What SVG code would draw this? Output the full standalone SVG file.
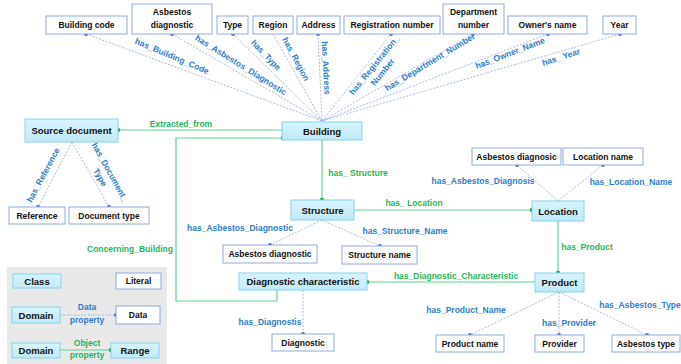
<svg xmlns="http://www.w3.org/2000/svg" width="681" height="364" viewBox="0 0 681 364">
<defs>
<linearGradient id="cg" x1="0" y1="0" x2="0" y2="1">
<stop offset="0" stop-color="#d9f5fd"/>
<stop offset="1" stop-color="#bfeaf8"/>
</linearGradient>
<style>
.cls{fill:url(#cg);stroke:#86d3ee;stroke-width:1}
.lit{fill:#ffffff;stroke:#8eaadb;stroke-width:1}
.ct{font-family:"Liberation Sans",Arial,sans-serif;font-size:9.5px;font-weight:bold;fill:#111;text-anchor:middle}
.lt{font-family:"Liberation Sans",Arial,sans-serif;font-size:8.5px;font-weight:bold;fill:#111;text-anchor:middle}
.bl{font-family:"Liberation Sans",Arial,sans-serif;font-size:8.5px;font-weight:bold;fill:#2e7dc9;text-anchor:middle}
.gl{font-family:"Liberation Sans",Arial,sans-serif;font-size:8.5px;font-weight:bold;fill:#1fb55a;text-anchor:middle}
.dp{fill:none;stroke:#8faadc;stroke-width:0.8;stroke-dasharray:2 1.5}
.op{fill:none;stroke:#62d394;stroke-width:1.2}
.bd{fill:#4472c4}
.gd{fill:#14a84e}
</style>
</defs>
<rect x="0" y="0" width="681" height="364" fill="#ffffff"/>

<g id="connectors">
<!-- data property lines top -->
<path class="dp" d="M86,34 L322,121"/>
<path class="dp" d="M172,34 L322,121"/>
<path class="dp" d="M233,34 L322,121"/>
<path class="dp" d="M273,34 L322,121"/>
<path class="dp" d="M318,34 L322,121"/>
<path class="dp" d="M391,34 L322,121"/>
<path class="dp" d="M473,34 L322,121"/>
<path class="dp" d="M548,34 L322,121"/>
<path class="dp" d="M620,34 L322,121"/>
<circle class="bd" cx="86" cy="34" r="2"/>
<circle class="bd" cx="172" cy="34" r="2"/>
<circle class="bd" cx="233" cy="34" r="2"/>
<circle class="bd" cx="318" cy="34" r="2"/>
<circle class="bd" cx="391" cy="34" r="2"/>
<circle class="bd" cx="473" cy="34" r="2"/>
<circle class="bd" cx="548" cy="34" r="2"/>
<circle class="bd" cx="620" cy="34" r="2"/>
<g transform="translate(172,56) rotate(23)"><text class="bl" x="0" y="3">has_Building_Code</text></g>
<g transform="translate(241,65) rotate(32)"><text class="bl" x="0" y="3">has_Asbestos_Diagnostic</text></g>
<g transform="translate(266,55) rotate(46)"><text class="bl" x="0" y="3">has_Type</text></g>
<g transform="translate(296,59) rotate(62)"><text class="bl" x="0" y="3">has_Region</text></g>
<g transform="translate(326,68) rotate(87)"><text class="bl" x="0" y="3">has_Address</text></g>
<g transform="translate(374,65) rotate(-51)"><text class="bl" x="0" y="3">has_Registration_</text><text class="bl" x="0" y="14">Number</text></g>
<g transform="translate(430,62) rotate(-31)"><text class="bl" x="0" y="3">has_Department_Number</text></g>
<g transform="translate(510,53) rotate(-21)"><text class="bl" x="0" y="3">has_Owner_Name</text></g>
<g transform="translate(561,57) rotate(-18)"><text class="bl" x="0" y="3">has_ Year</text></g>

<!-- source document -->
<path class="dp" d="M72,142 L38,207"/>
<path class="dp" d="M72,142 L109,207"/>
<circle class="bd" cx="38" cy="207" r="2"/>
<circle class="bd" cx="109" cy="207" r="2"/>
<g transform="translate(43,175) rotate(-62)"><text class="bl" x="0" y="3">has_Reference</text></g>
<g transform="translate(110,172) rotate(61)"><text class="bl" x="0" y="3">has_Document_</text><text class="bl" x="0" y="14">Type</text></g>

<!-- object properties -->
<path class="op" d="M118,130 L282,130"/>
<circle class="gd" cx="118" cy="130" r="2.2"/>
<text class="gl" x="181" y="127">Extracted_from</text>

<path class="op" d="M277,290 L277,301 L176,301 L176,138 L282,138"/>
<circle class="gd" cx="283" cy="138" r="2.2"/>
<text class="gl" x="130" y="252">Concerning_Building</text>

<path class="op" d="M322,140 L322,200"/>
<circle class="gd" cx="322" cy="200" r="2.2"/>
<text class="gl" x="358" y="176">has_ Structure</text>

<path class="op" d="M354,210 L532,210"/>
<circle class="gd" cx="532" cy="210" r="2.2"/>
<text class="gl" x="414" y="206">has_ Location</text>

<path class="op" d="M558,221 L558,273"/>
<circle class="gd" cx="558" cy="273" r="2.2"/>
<text class="gl" x="587" y="250">has_Product</text>

<path class="op" d="M367,282 L535,282"/>
<circle class="gd" cx="367" cy="282" r="2.2"/>
<text class="gl" x="456" y="279">has_Diagnostic_Characteristic</text>

<!-- location data props -->
<path class="dp" d="M558,201 L517,165"/>
<path class="dp" d="M558,201 L603,165"/>
<circle class="bd" cx="517" cy="165" r="2"/>
<circle class="bd" cx="603" cy="165" r="2"/>
<text class="bl" x="483" y="184">has_Asbestos_Diagnosis</text>
<text class="bl" x="631" y="185">has_Location_Name</text>

<!-- structure data props -->
<path class="dp" d="M322,220 L270,245"/>
<path class="dp" d="M322,220 L380,246"/>
<circle class="bd" cx="270" cy="245" r="2"/>
<circle class="bd" cx="380" cy="246" r="2"/>
<text class="bl" x="240" y="231">has_Asbestos_Diagnostic</text>
<text class="bl" x="405" y="234">has_Structure_Name</text>

<!-- diagnostic -->
<path class="dp" d="M303,290 L303,334"/>
<circle class="bd" cx="303" cy="334" r="2"/>
<text class="bl" x="270" y="325">has_Diagnostis</text>

<!-- product data props -->
<path class="dp" d="M559,292 L470,335"/>
<path class="dp" d="M559,292 L559,335"/>
<path class="dp" d="M559,292 L647,335"/>
<circle class="bd" cx="470" cy="335" r="2"/>
<circle class="bd" cx="559" cy="335" r="2"/>
<circle class="bd" cx="647" cy="335" r="2"/>
<text class="bl" x="466" y="313">has_Product_Name</text>
<text class="bl" x="569" y="326">has_Provider</text>
<text class="bl" x="640" y="308">has_Asbestos_Type</text>
</g>

<!-- literal nodes -->
<g id="n_building_code"><rect class="lit" x="46" y="16" width="81" height="18"/><text class="lt" x="86.5" y="28">Building code</text></g>
<g id="n_asbestos_diagnostic_top"><rect class="lit" x="132" y="4" width="80" height="30"/><text class="lt" x="172" y="15">Asbestos</text><text class="lt" x="172" y="27.5">diagnostic</text></g>
<g id="n_type"><rect class="lit" x="217" y="16" width="31" height="18"/><text class="lt" x="232.5" y="28">Type</text></g>
<g id="n_region"><rect class="lit" x="253" y="16" width="40" height="18"/><text class="lt" x="273" y="28">Region</text></g>
<g id="n_address"><rect class="lit" x="297" y="16" width="43" height="18"/><text class="lt" x="318.5" y="28">Address</text></g>
<g id="n_registration_number"><rect class="lit" x="344" y="16" width="96" height="18"/><text class="lt" x="392" y="28">Registration number</text></g>
<g id="n_department_number"><rect class="lit" x="443" y="4" width="61" height="30"/><text class="lt" x="473.5" y="15">Department</text><text class="lt" x="473.5" y="27.5">number</text></g>
<g id="n_owner_name"><rect class="lit" x="508" y="16" width="79" height="18"/><text class="lt" x="547.5" y="28">Owner's name</text></g>
<g id="n_year"><rect class="lit" x="603" y="16" width="33" height="18"/><text class="lt" x="619.5" y="28">Year</text></g>
<g id="n_reference"><rect class="lit" x="9" y="207" width="56" height="17"/><text class="lt" x="37" y="218.5">Reference</text></g>
<g id="n_document_type"><rect class="lit" x="69" y="207" width="80" height="17"/><text class="lt" x="109" y="218.5">Document type</text></g>
<g id="n_asbestos_diagnosic"><rect class="lit" x="472" y="148" width="89" height="17"/><text class="lt" x="516.5" y="159.5">Asbestos diagnosic</text></g>
<g id="n_location_name"><rect class="lit" x="563" y="148" width="80" height="17"/><text class="lt" x="603" y="159.5">Location name</text></g>
<g id="n_asbestos_diagnostic_struct"><rect class="lit" x="223" y="245" width="94" height="18"/><text class="lt" x="270" y="257">Asbestos diagnostic</text></g>
<g id="n_structure_name"><rect class="lit" x="342" y="246" width="75" height="18"/><text class="lt" x="379.5" y="258">Structure name</text></g>
<g id="n_diagnostic"><rect class="lit" x="272" y="334" width="62" height="17"/><text class="lt" x="303" y="345.5">Diagnostic</text></g>
<g id="n_product_name"><rect class="lit" x="436" y="335" width="68" height="17"/><text class="lt" x="470" y="346.5">Product name</text></g>
<g id="n_provider"><rect class="lit" x="535" y="335" width="49" height="17"/><text class="lt" x="559.5" y="346.5">Provider</text></g>
<g id="n_asbestos_type"><rect class="lit" x="612" y="335" width="68" height="17"/><text class="lt" x="646" y="346.5">Asbestos type</text></g>

<!-- class nodes -->
<g id="n_source_document"><rect class="cls" x="25" y="119" width="93" height="23"/><text class="ct" x="71.5" y="134">Source document</text></g>
<g id="n_building"><rect class="cls" x="282" y="122" width="80" height="18"/><text class="ct" x="322" y="134.5">Building</text></g>
<g id="n_structure"><rect class="cls" x="291" y="200" width="63" height="20"/><text class="ct" x="322.5" y="213.5">Structure</text></g>
<g id="n_location"><rect class="cls" x="532" y="201" width="52" height="20"/><text class="ct" x="558" y="214.5">Location</text></g>
<g id="n_diagnostic_characteristic"><rect class="cls" x="239" y="273" width="128" height="17"/><text class="ct" x="303" y="285">Diagnostic  characteristic</text></g>
<g id="n_product"><rect class="cls" x="535" y="273" width="49" height="19"/><text class="ct" x="559.5" y="286">Product</text></g>

<!-- legend -->
<g id="legend">
<rect x="7" y="267" width="160" height="97" fill="#e9e9e9"/>
<rect class="cls" x="13" y="274" width="48" height="14"/><text class="ct" x="37" y="284.5">Class</text>
<rect class="lit" x="116" y="273" width="45" height="16"/><text class="lt" x="138.5" y="284">Literal</text>
<rect class="cls" x="12" y="307" width="48" height="16"/><text class="ct" x="36" y="318.5">Domain</text>
<path class="dp" d="M60,315 L116,315"/>
<circle class="bd" cx="116" cy="315" r="2"/>
<text class="bl" x="87" y="310">Data</text><text class="bl" x="87" y="323">property</text>
<rect class="lit" x="116" y="306" width="44" height="18"/><text class="lt" x="138" y="318">Data</text>
<rect class="cls" x="12" y="343" width="48" height="15"/><text class="ct" x="36" y="354">Domain</text>
<path class="op" d="M60,350 L111,350"/>
<circle class="gd" cx="111" cy="350" r="2.2"/>
<text class="gl" x="87" y="346">Object</text><text class="gl" x="87" y="358">property</text>
<rect class="cls" x="111" y="343" width="48" height="15"/><text class="ct" x="135" y="354">Range</text>
</g>
</svg>
